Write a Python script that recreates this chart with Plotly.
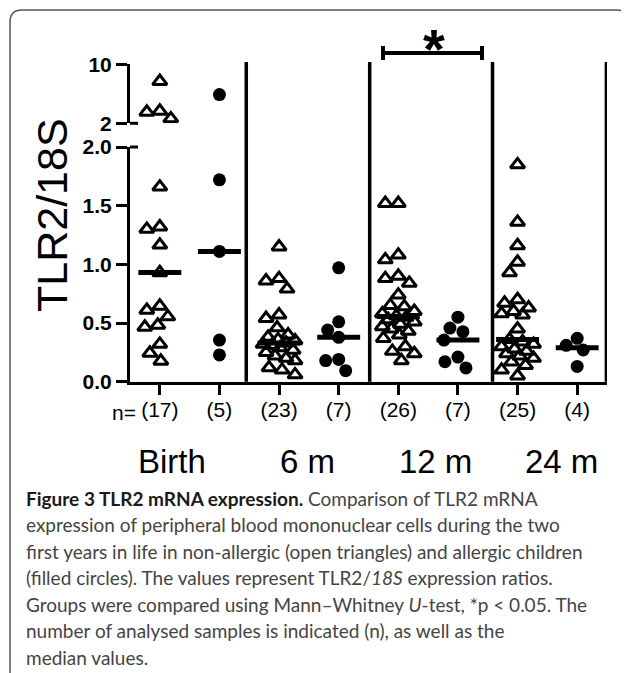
import numpy as np
import plotly.graph_objects as go

# the page body has an 8 px margin, so the figure is offset by 8 px on screen
OFF = 8
W, H = 629 - OFF, 673 - OFF

# ---------------- data ----------------
time_points = ["Birth", "6 m", "12 m", "24 m"]
# non-allergic children: open triangles ; allergic children: filled circles
birth_nonallergic = [7.7, 3.66, 3.53, 2.63, 1.66, 1.32, 1.30, 1.165, 0.93,
                     0.645, 0.61, 0.554, 0.483, 0.466, 0.32, 0.244, 0.176]
birth_allergic = [5.9, 1.72, 1.11, 0.355, 0.228]
m6_nonallergic = [1.15, 0.88, 0.86, 0.79, 0.57, 0.54, 0.46, 0.40, 0.38, 0.36,
                  0.35, 0.33, 0.32, 0.31, 0.29, 0.27, 0.25, 0.22, 0.20, 0.18,
                  0.12, 0.10, 0.06]
m6_allergic = [0.97, 0.51, 0.44, 0.378, 0.19, 0.18, 0.094]
m12_nonallergic = [1.52, 1.52, 1.08, 1.04, 0.90, 0.88, 0.84, 0.74, 0.65, 0.64,
                   0.60, 0.58, 0.56, 0.55, 0.53, 0.51, 0.49, 0.47, 0.45, 0.43,
                   0.40, 0.37, 0.30, 0.26, 0.24, 0.18]
m12_allergic = [0.55, 0.457, 0.426, 0.355, 0.21, 0.17, 0.117]
m24_nonallergic = [1.85, 1.36, 1.16, 1.02, 0.93, 0.70, 0.67, 0.63, 0.60, 0.58,
                   0.57, 0.45, 0.36, 0.34, 0.32, 0.30, 0.28, 0.26, 0.24, 0.22,
                   0.20, 0.17, 0.14, 0.10, 0.05]
m24_allergic = [0.37, 0.31, 0.27, 0.13]

lower_ticks = [0.0, 0.5, 1.0, 1.5, 2.0]
upper_ticks = [2, 10]
caption_lines = [
    "<span style='color:#1a1a1a'><b>Figure 3 TLR2 mRNA expression.</b></span> Comparison of TLR2 mRNA",
    "expression of peripheral blood mononuclear cells during the two",
    "first years in life in non-allergic (open triangles) and allergic children",
    "(filled circles). The values represent TLR2/<i>18S</i> expression ratios.",
    "Groups were compared using Mann\u2013Whitney <i>U</i>-test, *p &lt; 0.05. The",
    "number of analysed samples is indicated (n), as well as the",
    "median values.",
]

columns = [birth_nonallergic, birth_allergic, m6_nonallergic, m6_allergic,
           m12_nonallergic, m12_allergic, m24_nonallergic, m24_allergic]
is_allergic = [False, True, False, True, False, True, False, True]

# ---------------- geometry helpers (screen pixel -> paper) ----------------
def X(p):
    return (p - OFF) / W

def Y(p):
    return 1 - (p - OFF) / H

x_left, x_right = 130, 607
y_zero, y_two = 381.7, 147.0        # lower segment 0 .. 2.0
y_two_b, y_ten = 123.3, 64.3        # upper segment 2 .. 10
cat_px = (x_right - x_left) / 8.0

def ypix(v):
    if v <= 2:
        return y_zero - v * (y_zero - y_two) / 2.0
    return y_two_b - (v - 2) * (y_two_b - y_ten) / 8.0

def swarm(values, D=12.0, maxoff=16.0, step=1.0):
    cands = sorted(np.arange(-maxoff, maxoff + step / 2, step), key=lambda c: (abs(c), c))
    placed, offs = [], []
    for v in values:
        yp = ypix(v)
        chosen, best_c, best_d = None, 0.0, -1.0
        for c in cands:
            d = min([np.hypot(c - a, yp - b) for a, b in placed], default=1e9)
            if d >= D:
                chosen = c
                break
            if d > best_d:
                best_d, best_c = d, c
        if chosen is None:
            chosen = best_c
        placed.append((chosen, yp))
        offs.append(chosen / cat_px)
    return offs

fig = go.Figure()

for i, vals in enumerate(columns):
    offs = swarm(vals, D=13.0)
    xs = [i + o for o in offs]
    lo = [(x, v) for x, v in zip(xs, vals) if v <= 2]
    hi = [(x, v) for x, v in zip(xs, vals) if v > 2]
    if is_allergic[i]:
        marker = dict(symbol="circle", size=13, color="black", line=dict(width=0))
    else:
        marker = dict(symbol="triangle-up-open", size=12.5, color="black",
                      line=dict(width=3, color="black"))
    for pts, ya in ((lo, "y"), (hi, "y2")):
        if pts:
            fig.add_trace(go.Scatter(x=[p[0] for p in pts], y=[p[1] for p in pts],
                                     mode="markers", marker=marker, yaxis=ya,
                                     hoverinfo="skip"))
    med = float(np.median(vals))
    fig.add_trace(go.Scatter(x=[i - 0.36, i + 0.36], y=[med, med], mode="lines",
                             line=dict(color="black", width=5), yaxis="y",
                             hoverinfo="skip"))

tick_font = dict(family="Liberation Sans, Arial", size=21, color="black", weight="bold")

fig.update_layout(
    width=W, height=H, margin=dict(l=0, r=0, t=0, b=0, autoexpand=False),
    paper_bgcolor="white", plot_bgcolor="white", showlegend=False,
    xaxis=dict(domain=[X(x_left), X(x_right)], range=[-0.5, 7.5],
               tickvals=list(range(8)), ticktext=[f"({len(c)})" for c in columns],
               ticks="outside", ticklen=10, tickwidth=3, tickcolor="black",
               showline=True, linewidth=3, linecolor="black", showgrid=False,
               zeroline=False, anchor="y", ticklabelstandoff=-3,
               tickfont=dict(family="Liberation Sans, Arial", size=21, color="black")),
    yaxis=dict(domain=[Y(y_zero), Y(y_two)], range=[0, 2], tickvals=lower_ticks,
               ticktext=[f"{t:.1f}" for t in lower_ticks],
               ticks="outside", ticklen=11, tickwidth=3, tickcolor="black",
               showline=True, linewidth=3, linecolor="black", showgrid=False,
               zeroline=False, anchor="x", tickfont=tick_font, ticklabelstandoff=0),
    yaxis2=dict(domain=[Y(y_two_b), Y(y_ten)], range=[2, 10], tickvals=upper_ticks,
                ticktext=[str(t) for t in upper_ticks],
                ticks="outside", ticklen=11, tickwidth=3, tickcolor="black",
                showline=True, linewidth=3, linecolor="black", showgrid=False,
                zeroline=False, anchor="x", tickfont=tick_font, ticklabelstandoff=0),
)

shapes = []
# segment end caps on the inside of the broken axis
for yp in (y_two, y_two_b):
    shapes.append(dict(type="line", xref="paper", yref="paper", x0=X(x_left), x1=X(x_left + 8),
                       y0=Y(yp), y1=Y(yp), line=dict(color="black", width=3)))
# vertical separators between time points
for xs in (1.45, 3.52, 5.58, 7.49):
    shapes.append(dict(type="line", xref="x", yref="paper", x0=xs, x1=xs,
                       y0=Y(y_zero), y1=Y(62), line=dict(color="black", width=3.5)))
# significance bracket (12 m)
bx0, bx1, by = 383, 482, 53
shapes.append(dict(type="line", xref="paper", yref="paper", x0=X(bx0), x1=X(bx1),
                   y0=Y(by), y1=Y(by), line=dict(color="black", width=4)))
for bx in (bx0, bx1):
    shapes.append(dict(type="line", xref="paper", yref="paper", x0=X(bx), x1=X(bx),
                       y0=Y(46), y1=Y(60), line=dict(color="black", width=4)))
# frame with rounded corner
shapes.append(dict(type="path", xref="paper", yref="paper",
                   path=f"M {X(10)},{Y(673)} L {X(10)},{Y(22)} Q {X(10)},{Y(10)} {X(22)},{Y(10)} "
                        f"L {X(617)},{Y(10)} Q {X(627)},{Y(10)} {X(627)},{Y(22)}",
                   line=dict(color="#555555", width=1.5)))
fig.update_layout(shapes=shapes)

ann = []
ann.append(dict(text="TLR2/18S", xref="paper", yref="paper", x=X(52), y=Y(215),
                textangle=-90, showarrow=False, xanchor="center", yanchor="middle",
                font=dict(family="Liberation Sans, Arial", size=43, color="black")))
ann.append(dict(text="*", xref="paper", yref="paper", x=X(434), y=Y(48),
                showarrow=False, xanchor="center", yanchor="middle",
                font=dict(family="Liberation Sans, Arial", size=56, color="black", weight="bold")))
ann.append(dict(text="n=", xref="paper", yref="paper", x=X(138), y=Y(412),
                showarrow=False, xanchor="right", yanchor="middle",
                font=dict(family="Liberation Sans, Arial", size=21, color="black")))
for label, xp in zip(time_points, (172, 307, 436, 561)):
    ann.append(dict(text=label, xref="paper", yref="paper", x=X(xp), y=Y(461),
                    showarrow=False, xanchor="center", yanchor="middle",
                    font=dict(family="Liberation Sans, Arial", size=33, color="black")))
for k, line in enumerate(caption_lines):
    ann.append(dict(text=line, xref="paper", yref="paper", x=X(24), y=Y(498 + 26.5 * k),
                    showarrow=False, xanchor="left", yanchor="middle",
                    font=dict(family="Lato", size=19, color="#444444")))
fig.update_layout(annotations=ann)

fig.write_html("out.html")
